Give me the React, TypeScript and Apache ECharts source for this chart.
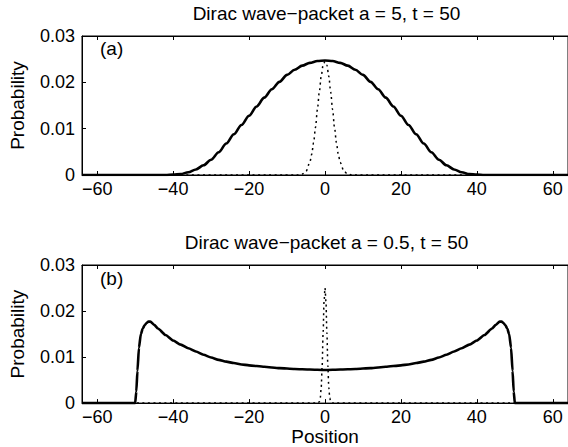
import React, { useEffect, useRef } from "react";
import * as echarts from "echarts";

// ---------- data ----------
const xTicks = [-60, -40, -20, 0, 20, 40, 60];
const yTicks = [0, 0.01, 0.02, 0.03];

const titleA = "Dirac wave\u2212packet a = 5, t = 50";
const titleB = "Dirac wave\u2212packet a = 0.5, t = 50";
const panelA = "(a)";
const panelB = "(b)";
const xName = "Position";
const yName = "Probability";

// panel (a) solid curve
const aSolidX = [
  -64, -62, -60, -58, -56, -54, -52, -50, -48, -46, -44, -42, -40, -38, -36, -34, -32, -30, -28, -26, -24,
  -22, -20, -18, -16, -14, -12, -10, -8, -6, -4, -2, 0, 2, 4, 6, 8, 10, 12, 14, 16, 18, 20, 22, 24, 26, 28,
  30, 32, 34, 36, 38, 40, 42, 44, 46, 48, 50, 52, 54, 56, 58, 60, 62, 64,
];
const aSolidY = [
  0, 0, 0, 0, 0, 0, 0, 0, 0, 0, 0, 0, 0.0001, 0.0002, 0.0006, 0.0012, 0.0021, 0.0033, 0.0049, 0.0068, 0.0088,
  0.0108, 0.0128, 0.0148, 0.0167, 0.0185, 0.0201, 0.0216, 0.0227, 0.0236, 0.0242, 0.0246, 0.0247, 0.0246,
  0.0242, 0.0236, 0.0227, 0.0216, 0.0201, 0.0185, 0.0167, 0.0148, 0.0128, 0.0108, 0.0088, 0.0068, 0.0049,
  0.0033, 0.0021, 0.0012, 0.0006, 0.0002, 0.0001, 0, 0, 0, 0, 0, 0, 0, 0, 0, 0, 0, 0,
];

// panel (a) dotted curve
const aDotX = [-64, -7, -6, -5, -4, -3.5, -3, -2.5, -2, -1.5, -1, -0.5, 0, 0.5, 1, 1.5, 2, 2.5, 3, 3.5, 4, 5, 6, 7, 64];
const aDotY = [
  0, 0, 0.0002, 0.0008, 0.0027, 0.0045, 0.007, 0.0103, 0.0141, 0.0179, 0.0213, 0.0237, 0.0245, 0.0237, 0.0213,
  0.0179, 0.0141, 0.0103, 0.007, 0.0045, 0.0027, 0.0008, 0.0002, 0, 0,
];

// panel (b) solid curve
const bSolidX = [
  -64, -50, -49.7, -49.4, -49, -48.5, -48, -47.5, -47, -46.5, -46, -45, -44, -42, -40, -38, -36, -34, -32, -30,
  -28, -26, -24, -22, -20, -16, -12, -8, -4, 0, 4, 8, 12, 16, 20, 22, 24, 26, 28, 30, 32, 34, 36, 38, 40, 42,
  44, 45, 46, 46.5, 47, 47.5, 48, 48.5, 49, 49.4, 49.7, 50, 64,
];
const bSolidY = [
  0, 0, 0.0025, 0.007, 0.012, 0.015, 0.0162, 0.0169, 0.0174, 0.0177, 0.0177, 0.017, 0.0162, 0.0148, 0.0136,
  0.0127, 0.0119, 0.0112, 0.0105, 0.0099, 0.0094, 0.009, 0.0087, 0.0084, 0.0082, 0.0079, 0.0076, 0.0074,
  0.0073, 0.0072, 0.0073, 0.0074, 0.0076, 0.0079, 0.0082, 0.0084, 0.0087, 0.009, 0.0094, 0.0099, 0.0105,
  0.0112, 0.0119, 0.0127, 0.0136, 0.0148, 0.0162, 0.017, 0.0177, 0.0177, 0.0174, 0.0169, 0.0162, 0.015,
  0.012, 0.007, 0.0025, 0, 0,
];

// panel (b) dotted curve
const bDotX = [-64, -2, -1.75, -1.5, -1.25, -1, -0.75, -0.5, -0.25, 0, 0.25, 0.5, 0.75, 1, 1.25, 1.5, 1.75, 2, 64];
const bDotY = [
  0, 0, 0.0001, 0.0003, 0.0011, 0.0034, 0.0081, 0.0152, 0.0221, 0.025, 0.0221, 0.0152, 0.0081, 0.0034, 0.0011,
  0.0003, 0.0001, 0, 0,
];

const FONT = "'Liberation Sans', Arial, Helvetica, sans-serif";

function pairs(xs: number[], ys: number[]) {
  return xs.map((x, i) => [x, ys[i]]);
}

export default function App() {
  const ref = useRef<HTMLDivElement>(null);
  useEffect(() => {
    document.body.style.margin = "0";
    if (!ref.current) return;
    const chart = echarts.init(ref.current, undefined, { renderer: "svg" });

    const gridL = 82;
    const gridW = 489;
    const grids = [
      { left: gridL, top: 36, width: gridW, height: 139 },
      { left: gridL, top: 265, width: gridW, height: 140 },
    ];
    const fmtX = (v: number) => (v < 0 ? "\u2212" + Math.abs(v) : String(v));
    const fmtY = (v: number) => (Math.abs(v) < 1e-9 ? "0" : v.toFixed(2));

    const baseX = (gi: number, pos: "bottom" | "top", labels: boolean) => ({
      type: "value",
      gridIndex: gi,
      position: pos,
      min: -64,
      max: 64,
      axisLine: { show: true, onZero: false, lineStyle: { color: "#000", width: 1 } },
      axisTick: { show: true, inside: true, length: 4, customValues: xTicks, lineStyle: { color: "#000" } },
      axisLabel: {
        show: labels,
        customValues: xTicks,
        formatter: fmtX,
        color: "#000",
        fontSize: 18,
        fontFamily: FONT,
        margin: 5,
      },
      splitLine: { show: false },
    });

    const baseY = (gi: number) => ({
      type: "value",
      gridIndex: gi,
      position: "left",
      min: 0,
      max: 0.03,
      interval: 0.01,
      name: yName,
      nameLocation: "middle",
      nameGap: 55,
      nameTextStyle: { color: "#000", fontSize: 19, fontFamily: FONT },
      axisLine: { show: true, onZero: false, lineStyle: { color: "#000", width: 1 } },
      axisTick: { show: true, inside: true, length: 4, lineStyle: { color: "#000" } },
      axisLabel: { formatter: fmtY, color: "#000", fontSize: 18, fontFamily: FONT, margin: 7 },
      splitLine: { show: false },
    });

    const xb1: any = baseX(1, "bottom", true);
    xb1.name = xName;
    xb1.nameLocation = "middle";
    xb1.nameGap = 23;
    xb1.nameTextStyle = { color: "#000", fontSize: 19, fontFamily: FONT };

    const solid = { color: "#000", width: 2.6 };
    const dotted = { color: "#000", width: 1.5, type: [2, 3.5] };

    const option: any = {
      animation: false,
      backgroundColor: "#fff",
      grid: grids.map((g) => ({ ...g, show: true, borderColor: "#000", borderWidth: 1, backgroundColor: "transparent" })),
      xAxis: [baseX(0, "bottom", true), xb1, baseX(0, "top", false), baseX(1, "top", false)],
      yAxis: [baseY(0), baseY(1)],
      series: [
        {
          type: "line",
          xAxisIndex: 0,
          yAxisIndex: 0,
          data: pairs(aSolidX, aSolidY),
          showSymbol: false,
          smooth: 0.3,
          smoothMonotone: "x",
          lineStyle: solid,
          z: 3,
        },
        {
          type: "line",
          xAxisIndex: 0,
          yAxisIndex: 0,
          data: pairs(aDotX, aDotY),
          showSymbol: false,
          smooth: 0.3,
          smoothMonotone: "x",
          lineStyle: dotted,
          z: 4,
        },
        {
          type: "line",
          xAxisIndex: 1,
          yAxisIndex: 1,
          data: pairs(bSolidX, bSolidY),
          showSymbol: false,
          smooth: 0.2,
          smoothMonotone: "x",
          lineStyle: solid,
          z: 3,
        },
        {
          type: "line",
          xAxisIndex: 1,
          yAxisIndex: 1,
          data: pairs(bDotX, bDotY),
          showSymbol: false,
          smooth: 0.3,
          smoothMonotone: "x",
          lineStyle: dotted,
          z: 4,
        },
      ],
      graphic: [
        {
          type: "text",
          x: gridL + gridW / 2,
          y: 13.5,
          style: { text: titleA, fontSize: 19, fontFamily: FONT, fill: "#000", align: "center", verticalAlign: "middle" },
        },
        {
          type: "text",
          x: gridL + gridW / 2,
          y: 242.5,
          style: { text: titleB, fontSize: 19, fontFamily: FONT, fill: "#000", align: "center", verticalAlign: "middle" },
        },
        {
          type: "text",
          x: 100,
          y: 48,
          style: { text: panelA, fontSize: 19, fontFamily: FONT, fill: "#000", align: "left", verticalAlign: "middle" },
        },
        {
          type: "text",
          x: 100,
          y: 278,
          style: { text: panelB, fontSize: 19, fontFamily: FONT, fill: "#000", align: "left", verticalAlign: "middle" },
        },
      ],
    };
    chart.setOption(option);
    return () => chart.dispose();
  }, []);
  return <div ref={ref} style={{ position: "absolute", left: 0, top: 0, width: 568, height: 447 }} />;
}
